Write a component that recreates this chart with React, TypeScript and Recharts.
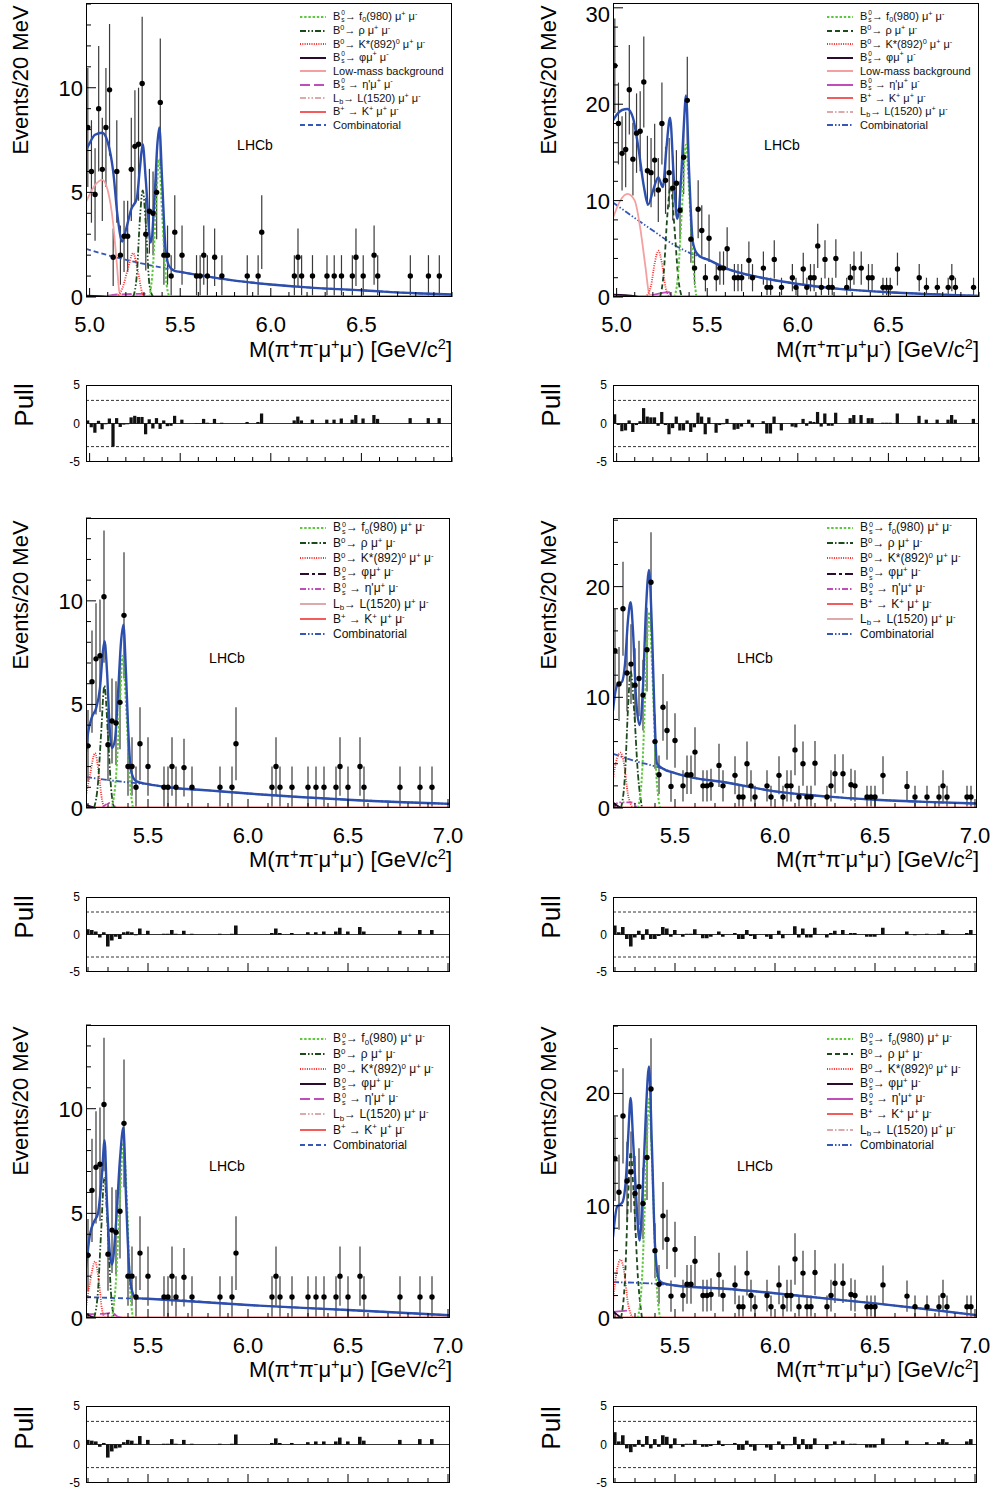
import React from 'react'
import type { ReactNode } from 'react'
import {
  Bar,
  ComposedChart,
  ErrorBar,
  Line,
  ReferenceLine,
  Scatter,
  XAxis,
  YAxis,
} from 'recharts'

type Pt = [number, number]

const BIN = 0.02
const topStart = 4.98
const lowStart = 5.19

// ---- histograms, top row (bins from 4.98 GeV) ----
const tlCounts = [
  8.1, 6, 4.9, 9, 6.1, 8.1, 9.9, 1.9, 6, 2,
  2.9, 2.9, 6.1, 7.2, 7.3, 10.2, 3, 4.1, 4, 5,
  9.3, 2, 2, 1, 3.1, 0, 2, 0, 0, 0,
  1, 1, 2, 1, 0, 1.9, 0, 1, 0, 0,
  0, 0, 0, 0, 1, 0, 0, 1, 3.1, 0,
  0, 0, 0, 0, 0, 0, 0, 1, 1.9, 1,
  0, 0, 1, 0, 0, 0, 1, 0, 1, 0,
  1, 0, 0, 1, 1.9, 0, 1, 0, 0, 2,
  1, 0, 0, 0, 0, 0, 0, 0, 0, 1,
  0, 0, 0, 0, 1, 0, 0, 1, 0, 0,
  0,
]
const trCounts = [
  24, 18, 14.9, 15.3, 21.5, 14.3, 17, 17.2, 22.3, 13.1,
  12.9, 14.2, 11.1, 18, 12.1, 12.9, 11.3, 11.8, 9, 14.5,
  20.4, 6, 3, 9.1, 6.9, 2, 6.1, 0, 2, 3,
  3, 5, 0, 2, 2, 2, 0, 3.8, 2, 0,
  0, 3, 1, 1, 3.9, 0, 1, 0, 0, 2,
  1, 0, 2.9, 1, 2, 2, 5.3, 1, 3.9, 1,
  1, 4, 0, 0, 1, 2, 3, 0, 3, 0,
  2, 2, 0, 0, 1, 1, 1, 0, 2.9, 0,
  0, 0, 0, 0, 2, 0, 1, 0, 0, 1,
  0, 0, 1, 2, 1, 0, 0, 0, 0, 1,
  0,
]
const tlPull = [
  0.4, -0.5, -1.2, 0.35, -0.75, -0.1, 0.65, -3.0, 0.7, -0.45,
  -0.15, -0.1, 0.8, 1.0, 0.85, 0.85, -1.4, 0.55, -0.65, 0.7,
  -0.7, 0.4, -0.35, -0.3, 1.0, 0, 0.5, 0, 0, 0,
  0.05, 0.05, 0.6, 0.1, 0, 0.6, 0, 0.1, 0, 0,
  0, 0, 0, 0, 0.2, 0, 0, 0.2, 1.3, 0,
  0, 0, 0, 0, 0, 0, 0, 0.4, 0.9, 0.4,
  0, 0, 0.5, 0, 0, 0, 0.5, 0, 0.5, 0,
  0.65, 0, 0, 0.5, 1.1, 0, 0.65, 0, 0, 1.1,
  0.6, 0, 0, 0, 0, 0, 0, 0, 0, 0.7,
  0, 0, 0, 0, 0.7, 0, 0, 0.7, 0, 0,
  0,
]
const trPull = [
  1.2, -0.2, -1.0, -0.9, 0.4, -1.1, -0.2, 0.3, 2.0, 0.9,
  0.8, 0.8, -0.3, 1.5, -0.2, -1.4, -0.6, 0.9, -0.9, -0.9,
  0.4, -1.1, -0.5, 1.4, 0.9, -1.4, 0.8, 0, -1.2, -0.2,
  -0.1, 0.6, 0, -0.8, -0.7, -0.4, 0, 0.5, -0.5, 0,
  0, 0.3, -1.3, -1.3, 0.9, 0, -0.9, 0, 0, -0.4,
  -0.5, 0, 0.6, -0.3, 0.3, 0.2, 1.5, -0.4, 1.3, -0.3,
  -0.3, 1.4, 0, 0, 0, 0.7, 1.1, 0, 1.1, 0,
  0.7, 0.7, 0, 0, 0.1, 0.1, 0.1, 0, 1.3, 0,
  0, 0, 0, 0, 1.0, 0, 0.5, 0, 0, 0.5,
  0, 0, 0.5, 1.1, 0.5, 0, 0, 0, 0, 0.6,
  0,
]

// ---- histograms, middle and bottom rows (bins from 5.19 GeV) ----
const leftCounts = [
  3, 6.1, 7.2, 7.35, 10.2, 3.05, 4.2, 4.1, 5.1, 9.3,
  2, 2, 1, 3.1, 0, 2, 0, 0, 0, 1,
  1, 2, 1, 0, 1.95, 0, 1, 0, 0, 0,
  0, 0, 0, 1, 0, 0, 1, 3.1, 0, 0,
  0, 0, 0, 0, 0, 0, 1, 2, 1, 0,
  0, 1, 0, 0, 0, 1, 0, 1, 0, 1,
  0, 0, 1, 2, 0, 1, 0, 0, 2, 1,
  0, 0, 0, 0, 0, 0, 0, 0, 1, 0,
  0, 0, 0, 1, 0, 0, 1, 0, 0, 0,
  0,
]
const rightCounts = [
  14.2, 11.2, 18, 12.2, 13, 11.1, 11.7, 10.2, 14.3, 20.4,
  6, 3, 9.1, 7, 1.95, 6.1, 0, 2, 3, 3,
  5.05, 0, 2, 2, 2.1, 0, 3.85, 2, 0, 0,
  2.95, 1, 1, 4, 2, 1, 0, 0, 2, 1,
  0, 2.95, 1, 2, 2, 5.25, 1, 4, 1, 1,
  4.05, 0, 0, 1, 2, 3.1, 0, 3.1, 0, 2.1,
  2, 0, 0, 1, 1, 1, 0, 2.95, 0, 0,
  0, 0, 0, 1.95, 0, 1, 0, 0, 1, 0,
  0, 1, 2, 1, 0, 0, 0, 0, 1, 1,
  0,
]
const mlPull = [
  0.7, 0.6, 0.4, -0.4, 0.3, -1.6, -0.8, -0.3, -0.6, 0.3,
  0.4, 0.3, -0.1, 0.8, 0, 0.5, 0, 0, 0, 0.1,
  0.1, 0.6, 0.1, 0, 0.5, 0, 0.1, 0, 0, 0,
  0, 0, 0, 0.1, 0, 0, 0.1, 1.2, 0, 0,
  0, 0, 0, 0, 0, 0, 0.2, 0.8, 0.2, 0,
  0, 0.2, 0, 0, 0, 0.3, 0, 0.3, 0, 0.4,
  0, 0, 0.4, 0.9, 0, 0.4, 0, 0, 1.0, 0.4,
  0, 0, 0, 0, 0, 0, 0, 0, 0.5, 0,
  0, 0, 0, 0.6, 0, 0, 0.6, 0, 0, 0,
  0,
]
const blPull = [
  0.6, 0.5, 0.4, -0.3, 0.2, -1.7, -0.9, -0.5, -0.4, 0.3,
  0.6, 0.5, 0.1, 1.1, 0, 0.6, 0, 0, 0, 0.1,
  0.1, 0.7, 0.1, 0, 0.6, 0, 0.1, 0, 0, 0,
  0, 0, 0, 0.1, 0, 0, 0.1, 1.3, 0, 0,
  0, 0, 0, 0, 0, 0, 0.2, 0.8, 0.2, 0,
  0, 0.2, 0, 0, 0, 0.3, 0, 0.4, 0, 0.4,
  0, 0, 0.4, 0.9, 0, 0.4, 0, 0, 1.0, 0.5,
  0, 0, 0, 0, 0, 0, 0, 0, 0.6, 0,
  0, 0, 0, 0.7, 0, 0, 0.7, 0, 0, 0,
  0,
]
const mrPull = [
  1.2, 0.3, 1.0, -0.6, -1.6, -0.4, 0.5, -0.7, 0.7, -0.6,
  -0.6, -0.2, 1.0, 0.8, -0.3, 0.6, 0, -0.3, 0.1, 0.1,
  0.7, 0, -0.5, -0.5, -0.3, 0, 0.4, -0.3, 0, 0,
  0.2, -0.6, -0.6, 0.6, -0.2, -0.6, 0, 0, -0.3, -0.6,
  0, 0.5, -0.5, 0, 0, 1.1, -0.4, 0.8, -0.4, -0.4,
  0.9, 0, 0, -0.4, 0.2, 0.5, 0, 0.6, 0, 0.2,
  0.2, 0, 0, -0.3, -0.3, -0.3, 0, 0.9, 0, 0,
  0, 0, 0, 0.4, 0, -0.1, 0, 0, 0.1, 0,
  0, 0.1, 0.6, 0.1, 0, 0, 0, 0, 0.2, 0.6,
  0,
]
const brPull = [
  1.6, 0.4, 1.2, -0.5, -1.0, -0.3, 0.6, -0.3, 1.1, -0.5,
  0.7, -0.3, 1.2, 1.0, -0.5, 0.8, 0, -0.3, 0.1, 0.1,
  0.6, 0, -0.3, -0.3, -0.2, 0, 0.5, -0.2, 0, 0,
  0.2, -0.7, -0.7, 0.5, -0.3, -0.8, 0, 0, -0.4, -0.7,
  0, 0.4, -0.6, -0.1, -0.1, 1.0, -0.6, 0.7, -0.6, -0.6,
  0.8, 0, 0, -0.6, -0.1, 0.4, 0, 0.5, 0, 0.1,
  0.1, 0, 0, -0.4, -0.4, -0.4, 0, 0.8, 0, 0,
  0, 0, 0, 0.5, 0, 0, 0, 0, 0.3, 0,
  0, 0.3, 0.7, 0.3, 0, 0, 0, 0, 0.4, 0.7,
  0,
]

// ---- fit curves [mass, events] ----
const tlFit: Pt[] = [[4.98, 7.0], [5.0, 7.35], [5.03, 7.75], [5.07, 7.85], [5.1, 7.4], [5.13, 6.0], [5.155, 3.8], [5.18, 2.65], [5.2, 3.2], [5.23, 4.2], [5.26, 4.7], [5.278, 6.2], [5.293, 7.3], [5.31, 5.6], [5.337, 2.6], [5.36, 5.0], [5.373, 7.2], [5.385, 8.1], [5.4, 5.6], [5.42, 2.2], [5.44, 1.45], [5.47, 1.25], [5.5, 1.2], [5.6, 1.05], [5.8, 0.78], [6.0, 0.6], [6.2, 0.46], [6.5, 0.32], [6.8, 0.18], [7.0, 0.12]]
const tlComb: Pt[] = [[4.98, 2.3], [5.1, 2.0], [5.2, 1.78], [5.3, 1.58], [5.4, 1.4], [5.5, 1.2], [5.6, 1.05], [5.8, 0.78], [6.0, 0.6], [6.2, 0.46], [6.5, 0.32], [6.8, 0.18], [7.0, 0.12]]
const tlLow: Pt[] = [[4.98, 4.55], [5.0, 4.9], [5.03, 5.35], [5.07, 5.6], [5.1, 5.1], [5.13, 3.5], [5.15, 1.6], [5.165, 0.2], [5.18, 0.02], [7.0, 0.02]]
const tlKst: Pt[] = [[5.15, 0], [5.18, 0.4], [5.21, 1.3], [5.24, 2.1], [5.265, 1.3], [5.29, 0.2], [5.3, 0]]
const tlRho: Pt[] = [[5.24, 0], [5.26, 1.0], [5.278, 3.8], [5.293, 5.1], [5.31, 3.5], [5.33, 0.6], [5.35, 0]]
const tlF0: Pt[] = [[5.33, 0], [5.35, 1.5], [5.37, 5.0], [5.383, 6.6], [5.4, 4.0], [5.42, 1.0], [5.44, 0]]
const tlPhi: Pt[] = [[4.98, 0.06], [5.05, 0.04], [5.1, 0.01]]
const tlEtap: Pt[] = [[5.1, 0.05], [5.15, 0.12], [5.3, 0.15], [5.33, 0.02]]
const tlLb: Pt[] = [[5.12, 0.01], [5.22, 0.08], [5.3, 0.01]]
const tlBk: Pt[] = [[4.98, 0.04], [7.0, 0.04]]

const trFit: Pt[] = [[4.98, 18.3], [5.0, 18.9], [5.03, 19.4], [5.06, 19.5], [5.09, 18.6], [5.12, 15.5], [5.15, 11.5], [5.175, 9.6], [5.2, 11.0], [5.23, 12.4], [5.255, 11.4], [5.275, 15.5], [5.295, 18.6], [5.315, 12.5], [5.335, 8.1], [5.355, 12], [5.37, 17.5], [5.383, 20.9], [5.4, 13], [5.42, 5.8], [5.44, 4.6], [5.47, 4.1], [5.5, 3.9], [5.6, 3.0], [5.8, 2.0], [6.0, 1.35], [6.2, 0.9], [6.5, 0.5], [6.8, 0.25], [7.0, 0.12]]
const trComb: Pt[] = [[4.98, 9.8], [5.1, 8.2], [5.2, 6.9], [5.3, 5.6], [5.4, 4.6], [5.5, 3.9], [5.6, 3.0], [5.8, 2.0], [6.0, 1.35], [6.2, 0.9], [6.5, 0.5], [6.8, 0.25], [7.0, 0.12]]
const trLow: Pt[] = [[4.98, 8.2], [5.02, 10.0], [5.06, 10.7], [5.1, 10.0], [5.13, 7.2], [5.16, 3.0], [5.18, 0.3], [5.2, 0.05], [7.0, 0.05]]
const trKst: Pt[] = [[5.16, 0], [5.19, 1.2], [5.21, 3.5], [5.23, 4.8], [5.25, 3.5], [5.27, 1.0], [5.29, 0]]
const trRho: Pt[] = [[5.24, 0], [5.26, 2.5], [5.28, 8.5], [5.298, 11.5], [5.32, 7], [5.34, 2], [5.36, 0]]
const trF0: Pt[] = [[5.32, 0], [5.34, 2.5], [5.36, 9], [5.383, 15.8], [5.4, 11], [5.42, 4], [5.44, 0]]
const trPhi: Pt[] = [[4.98, 0.25], [5.05, 0.2], [5.12, 0.02]]
const trEtap: Pt[] = [[5.18, 0.1], [5.22, 0.3], [5.29, 0.5], [5.3, 0.02]]
const trLb: Pt[] = [[5.15, 0.02], [5.25, 0.1], [5.35, 0.02]]
const trBk: Pt[] = [[4.98, 0.1], [7.0, 0.1]]

const mlFit: Pt[] = [[5.19, 2.7], [5.2, 3.6], [5.22, 4.4], [5.24, 4.8], [5.26, 5.8], [5.275, 7.6], [5.283, 8.05], [5.295, 6.6], [5.31, 3.6], [5.32, 2.9], [5.335, 3.3], [5.35, 5.5], [5.365, 8.0], [5.377, 8.85], [5.39, 6.5], [5.4, 4.0], [5.415, 1.8], [5.44, 1.3], [5.5, 1.15], [5.6, 1.0], [5.8, 0.85], [6.0, 0.7], [6.5, 0.4], [7.01, 0.2]]
const mlComb: Pt[] = [[5.19, 1.5], [5.3, 1.35], [5.44, 1.2], [5.5, 1.15], [5.6, 1.0], [5.8, 0.85], [6.0, 0.7], [6.5, 0.4], [7.01, 0.2]]
const mlKst: Pt[] = [[5.19, 0.6], [5.21, 1.6], [5.235, 2.65], [5.255, 1.6], [5.27, 0.4], [5.285, 0]]
const mlRho: Pt[] = [[5.23, 0], [5.25, 1.2], [5.265, 3.5], [5.282, 5.9], [5.3, 3.5], [5.315, 1.0], [5.33, 0]]
const mlF0: Pt[] = [[5.32, 0], [5.34, 1.5], [5.36, 5.0], [5.373, 7.35], [5.39, 5.0], [5.41, 1.2], [5.425, 0]]
const mlPhi: Pt[] = [[5.19, 0.15], [5.22, 0.05], [5.24, 0.01]]
const mlEtap: Pt[] = [[5.27, 0.01], [5.31, 0.25], [5.34, 0.01]]
const mlLb: Pt[] = [[5.19, 0.02], [7.01, 0.02]]
const mlBk: Pt[] = [[5.19, 0.03], [7.01, 0.03]]

const blFit: Pt[] = [[5.19, 2.4], [5.21, 4.0], [5.23, 4.6], [5.25, 5.0], [5.27, 6.9], [5.283, 8.5], [5.295, 5.5], [5.31, 3.0], [5.32, 2.55], [5.34, 4.5], [5.36, 7.6], [5.377, 9.1], [5.39, 5.8], [5.405, 2.5], [5.42, 1.3], [5.44, 0.95], [5.5, 0.92], [6.0, 0.62], [6.5, 0.38], [7.01, 0.13]]
const blComb: Pt[] = [[5.19, 1.0], [5.44, 0.93], [5.5, 0.92], [6.0, 0.62], [6.5, 0.38], [7.01, 0.13]]
const blKst: Pt[] = [[5.19, 0.5], [5.21, 1.7], [5.235, 2.7], [5.255, 1.7], [5.27, 0.4], [5.285, 0]]
const blRho: Pt[] = [[5.23, 0], [5.25, 1.3], [5.265, 4.0], [5.282, 6.7], [5.3, 4.0], [5.315, 1.2], [5.33, 0]]
const blF0: Pt[] = [[5.32, 0], [5.34, 1.8], [5.36, 5.8], [5.377, 8.35], [5.395, 5.5], [5.41, 1.5], [5.425, 0]]
const blPhi: Pt[] = [[5.19, 0.2], [5.22, 0.05], [5.24, 0.01]]
const blEtap: Pt[] = [[5.19, 0.18], [5.28, 0.2], [5.32, 0.25], [5.35, 0.05], [5.37, 0.01]]
const blLb: Pt[] = [[5.19, 0.02], [7.01, 0.02]]
const blBk: Pt[] = [[5.19, 0.03], [7.01, 0.03]]

const mrFit: Pt[] = [[5.19, 8.8], [5.2, 10.3], [5.215, 11.2], [5.235, 11.4], [5.25, 13.0], [5.265, 17.0], [5.278, 18.6], [5.29, 16], [5.305, 10], [5.323, 7.5], [5.34, 11], [5.355, 18], [5.37, 21.5], [5.385, 16], [5.397, 8.8], [5.41, 4.0], [5.44, 3.55], [5.5, 3.15], [5.6, 2.7], [5.74, 2.35], [6.0, 1.5], [6.25, 1.05], [6.5, 0.75], [6.75, 0.55], [7.01, 0.4]]
const mrComb: Pt[] = [[5.19, 4.9], [5.3, 4.25], [5.44, 3.55], [5.5, 3.15], [5.6, 2.7], [5.74, 2.35], [6.0, 1.5], [6.25, 1.05], [6.5, 0.75], [6.75, 0.55], [7.01, 0.4]]
const mrKst: Pt[] = [[5.19, 2.6], [5.21, 4.5], [5.228, 5.0], [5.245, 4.0], [5.265, 1.2], [5.28, 0.3], [5.29, 0]]
const mrRho: Pt[] = [[5.23, 0], [5.25, 3], [5.265, 9], [5.278, 12.4], [5.295, 9], [5.315, 3], [5.335, 0]]
const mrF0: Pt[] = [[5.315, 0], [5.335, 3], [5.355, 12], [5.37, 17.7], [5.385, 13], [5.405, 3.5], [5.425, 0]]
const mrPhi: Pt[] = [[5.19, 0.5], [5.22, 0.1], [5.23, 0.02]]
const mrEtap: Pt[] = [[5.19, 0.1], [5.22, 0.5], [5.29, 0.5], [5.31, 0.02]]
const mrLb: Pt[] = [[5.19, 0.04], [7.01, 0.04]]
const mrBk: Pt[] = [[5.19, 0.06], [7.01, 0.06]]

const brFit: Pt[] = [[5.19, 7.2], [5.21, 9.9], [5.237, 10.3], [5.255, 12.5], [5.267, 16.5], [5.278, 19.6], [5.29, 16.0], [5.305, 11.0], [5.323, 6.9], [5.34, 12.0], [5.355, 18.5], [5.37, 22.4], [5.385, 15.0], [5.4, 6.5], [5.42, 3.4], [5.44, 3.1], [5.5, 2.9], [5.75, 2.6], [6.0, 2.2], [6.25, 1.75], [6.5, 1.3], [6.75, 0.8], [7.01, 0.25]]
const brComb: Pt[] = [[5.19, 3.2], [5.44, 3.0], [5.5, 2.9], [5.75, 2.6], [6.0, 2.2], [6.25, 1.75], [6.5, 1.3], [6.75, 0.8], [7.01, 0.25]]
const brKst: Pt[] = [[5.19, 1.5], [5.21, 4.3], [5.228, 5.2], [5.245, 4.2], [5.265, 1.3], [5.28, 0.3], [5.29, 0]]
const brRho: Pt[] = [[5.23, 0], [5.25, 3.5], [5.265, 10.5], [5.278, 14.8], [5.295, 10.5], [5.315, 3.5], [5.335, 0]]
const brF0: Pt[] = [[5.315, 0], [5.335, 3.5], [5.355, 13], [5.37, 19.5], [5.385, 14], [5.405, 4], [5.425, 0]]
const brPhi: Pt[] = [[5.19, 0.6], [5.21, 0.3], [5.23, 0.02]]
const brEtap: Pt[] = [[5.19, 0.55], [5.26, 0.65]]
const brLb: Pt[] = [[5.19, 0.04], [7.01, 0.04]]
const brBk: Pt[] = [[5.19, 0.06], [7.01, 0.06]]

// ---- axis ticks ----
const topXMajor = [5.0, 5.5, 6.0, 6.5]
const lowXMajor = [5.5, 6.0, 6.5, 7.0]
const topXMinor = Array.from({ length: 21 }, (_, i) => +(5.0 + 0.1 * i).toFixed(1))
const lowXMinor = Array.from({ length: 19 }, (_, i) => +(5.2 + 0.1 * i).toFixed(1))
const smallYMajor = [0, 5, 10]
const smallYMinor = Array.from({ length: 15 }, (_, i) => i)
const bigYMajorTop = [0, 10, 20, 30]
const bigYMinorTop = Array.from({ length: 16 }, (_, i) => 2 * i)
const bigYMajor = [0, 10, 20]
const bigYMinor = Array.from({ length: 14 }, (_, i) => 2 * i)
const pullTicks = [-5, 0, 5]

const C = {
  f0: '#5cc83c',
  rho: '#1d4a1d',
  kst: '#ff2b2b',
  phi: '#2b0b2e',
  low: '#f4a0a0',
  etap: '#c04db8',
  lb: '#dcaaaa',
  bk: '#f25c5c',
  comb: '#3557b5',
  fit: '#2c4ead',
}
const D = {
  dot: '1 1.3',
  green: '2.4 1.8',
  dash: '5 3',
  dashDot: '6 2 1.5 2',
  dashDotDot: '6 2 1.5 2 1.5 2',
  long: '10 4',
  longShort: '9 3 3 3',
}

const FONT = '"Liberation Sans", Arial, Helvetica, sans-serif'
const PL = 60
const PT = 10
const PR = 15
const PB = 45

const toXY = (arr: Pt[]) => arr.map(([x, y]) => ({ x, y }))
const isIn = (arr: number[], v: number) => arr.some((m) => Math.abs(m - v) < 1e-6)

// raised / lowered scripts kept inside the line box
const Sp = ({ c }: { c: string }) => (
  <span style={{ fontSize: '0.66em', position: 'relative', top: '-0.55em', lineHeight: 1 }}>{c}</span>
)
const Sb = ({ c }: { c: string }) => (
  <span style={{ fontSize: '0.66em', position: 'relative', top: '0.3em', lineHeight: 1 }}>{c}</span>
)
const SS = ({ up, dn }: { up: string; dn: string }) => (
  <span
    style={{
      display: 'inline-flex',
      flexDirection: 'column',
      fontSize: '0.6em',
      lineHeight: 1,
      verticalAlign: 'middle',
      marginLeft: 1,
    }}
  >
    <span>{up}</span>
    <span>{dn}</span>
  </span>
)
const mumu = (
  <>
    μ<Sp c="+" /> μ<Sp c="-" />
  </>
)
const LBL: Record<string, ReactNode> = {
  f0: <>B<SS up="0" dn="s" />→ f<Sb c="0" />(980) {mumu}</>,
  rho: <>B<Sp c="0" />→ ρ {mumu}</>,
  kst: <>B<Sp c="0" />→ K*(892)<Sp c="0" /> {mumu}</>,
  phi: <>B<SS up="0" dn="s" />→ φ{mumu}</>,
  low: <>Low-mass background</>,
  etap: <>B<SS up="0" dn="s" /> → η'{mumu}</>,
  lb: <>L<Sb c="b" />→ L(1520) {mumu}</>,
  bk: <>B<Sp c="+" /> → K<Sp c="+" /> {mumu}</>,
  comb: <>Combinatorial</>,
}

interface Series {
  key: string
  data: Pt[]
  color: string
  dash?: string
  width?: number
}

function XTick(props: any) {
  const { x, y, payload, majors, labels } = props
  const v = payload.value as number
  const major = isIn(majors, v)
  return (
    <g>
      <line x1={x} x2={x} y1={y} y2={y - (major ? 9 : 5)} stroke="#000" strokeWidth={1} />
      {major && labels && (
        <text x={x} y={y + 35} textAnchor="middle" fontSize={22} fill="#000" fontFamily={FONT}>
          {v.toFixed(1)}
        </text>
      )}
    </g>
  )
}

function YTick(props: any) {
  const { x, y, payload, majors } = props
  const v = payload.value as number
  const major = isIn(majors, v)
  return (
    <g>
      <line x1={x} x2={x + (major ? 10 : 5)} y1={y} y2={y} stroke="#000" strokeWidth={1} />
      {major && (
        <text x={x - 3} y={Math.max(y + 8, 29)} textAnchor="end" fontSize={22} fill="#000" fontFamily={FONT}>
          {v}
        </text>
      )}
    </g>
  )
}

function PullYTick(props: any) {
  const { x, y, payload } = props
  return (
    <text x={x - 6} y={y + 4} textAnchor="end" fontSize={12} fill="#000" fontFamily={FONT}>
      {payload.value}
    </text>
  )
}

interface MainProps {
  left: number
  top: number
  width: number
  height: number
  xDomain: [number, number]
  xMajor: number[]
  xMinor: number[]
  yMax: number
  yMajor: number[]
  yMinor: number[]
  counts: number[]
  start: number
  series: Series[]
  fit: Pt[]
}

function MainPanel(p: MainProps) {
  const pts = p.counts.map((v, i) => ({
    x: p.start + BIN * (i + 0.5),
    y: v,
    e: v > 0 ? Math.sqrt(v) : 0,
  }))
  const half = (p.width * BIN) / (p.xDomain[1] - p.xDomain[0]) / 2
  return (
    <div style={{ position: 'absolute', left: p.left - PL, top: p.top - PT }}>
      <ComposedChart
        width={p.width + PL + PR}
        height={p.height + PT + PB}
        margin={{ top: PT, right: PR, bottom: 0, left: 0 }}
      >
        <XAxis
          type="number"
          dataKey="x"
          domain={p.xDomain}
          allowDataOverflow
          ticks={p.xMinor}
          interval={0}
          height={PB}
          tickSize={0}
          tickMargin={0}
          axisLine={false}
          tickLine={false}
          tick={(t: any) => <XTick {...t} majors={p.xMajor} labels />}
        />
        <YAxis
          type="number"
          domain={[0, p.yMax]}
          allowDataOverflow
          ticks={p.yMinor}
          interval={0}
          width={PL}
          tickSize={0}
          tickMargin={0}
          axisLine={false}
          tickLine={false}
          tick={(t: any) => <YTick {...t} majors={p.yMajor} />}
        />
        <Scatter
          data={pts}
          dataKey="y"
          isAnimationActive={false}
          shape={(s: any) =>
            s.payload.y > 0 ? (
              <circle cx={s.cx} cy={s.cy} r={2.7} fill="#000" />
            ) : (
              <line x1={s.cx - half + 0.6} x2={s.cx + half - 0.6} y1={s.cy} y2={s.cy} stroke="#333" strokeWidth={1} />
            )
          }
        >
          <ErrorBar dataKey="e" direction="y" width={0} stroke="#3a3a3a" strokeWidth={1.2} />
        </Scatter>
        {p.series.map((s) => (
          <Line
            key={s.key}
            data={toXY(s.data)}
            dataKey="y"
            type="monotone"
            dot={false}
            activeDot={false}
            stroke={s.color}
            strokeWidth={s.width ?? 1.8}
            strokeDasharray={s.dash}
            isAnimationActive={false}
          />
        ))}
        <Line
          data={toXY(p.fit)}
          dataKey="y"
          type="monotone"
          dot={false}
          activeDot={false}
          stroke={C.fit}
          strokeWidth={2.4}
          isAnimationActive={false}
        />
      </ComposedChart>
      <div
        style={{
          position: 'absolute',
          left: PL,
          top: PT,
          width: p.width,
          height: p.height,
          border: '1px solid #000',
          boxSizing: 'border-box',
          pointerEvents: 'none',
        }}
      />
    </div>
  )
}

interface PullProps {
  left: number
  top: number
  width: number
  height: number
  xDomain: [number, number]
  xMajor: number[]
  xMinor: number[]
  pulls: number[]
  start: number
}

function PullPanel(p: PullProps) {
  const data = p.pulls.map((v, i) => ({ x: p.start + BIN * (i + 0.5), p: v }))
  const bw = (p.width * BIN) / (p.xDomain[1] - p.xDomain[0])
  return (
    <div style={{ position: 'absolute', left: p.left - PL, top: p.top - PT }}>
      <ComposedChart
        width={p.width + PL + PR}
        height={p.height + PT + 15}
        data={data}
        margin={{ top: PT, right: PR, bottom: 0, left: 0 }}
        barGap={0}
        barCategoryGap={0}
      >
        <XAxis
          type="number"
          dataKey="x"
          domain={p.xDomain}
          allowDataOverflow
          ticks={p.xMinor}
          interval={0}
          height={15}
          tickSize={0}
          tickMargin={0}
          axisLine={false}
          tickLine={false}
          tick={(t: any) => <XTick {...t} majors={p.xMajor} labels={false} />}
        />
        <YAxis
          type="number"
          domain={[-5, 5]}
          allowDataOverflow
          ticks={pullTicks}
          interval={0}
          width={PL}
          tickSize={0}
          tickMargin={0}
          axisLine={false}
          tickLine={false}
          tick={(t: any) => <PullYTick {...t} />}
        />
        <ReferenceLine y={3} stroke="#000" strokeDasharray="3 2" strokeWidth={0.8} />
        <ReferenceLine y={-3} stroke="#000" strokeDasharray="3 2" strokeWidth={0.8} />
        <ReferenceLine y={0} stroke="#000" strokeWidth={0.8} />
        <Bar dataKey="p" fill="#111" barSize={bw} isAnimationActive={false} />
      </ComposedChart>
      <div
        style={{
          position: 'absolute',
          left: PL,
          top: PT,
          width: p.width,
          height: p.height,
          border: '1px solid #000',
          boxSizing: 'border-box',
          pointerEvents: 'none',
        }}
      />
    </div>
  )
}

interface LegendItem {
  key: string
  color: string
  dash?: string
  width?: number
}

function Legend({ left, top, step, fontSize, items }: { left: number; top: number; step: number; fontSize: number; items: LegendItem[] }) {
  return (
    <div style={{ position: 'absolute', left, top: top - step / 2, fontSize, lineHeight: 1, color: '#111' }}>
      {items.map((it) => (
        <div key={it.key} style={{ display: 'flex', alignItems: 'center', height: step, whiteSpace: 'nowrap' }}>
          <svg width={26} height={6} style={{ marginRight: 7, flex: 'none' }}>
            <line x1={0} x2={26} y1={3} y2={3} stroke={it.color} strokeWidth={it.width ?? 2} strokeDasharray={it.dash} />
          </svg>
          <span>{LBL[it.key]}</span>
        </div>
      ))}
    </div>
  )
}

const rotated = (text: ReactNode, cx: number, cy: number, size: number) => (
  <div
    style={{
      position: 'absolute',
      left: cx - 110,
      top: cy - 16,
      width: 220,
      height: 32,
      lineHeight: '32px',
      textAlign: 'center',
      fontSize: size,
      transform: 'rotate(-90deg)',
      whiteSpace: 'nowrap',
    }}
  >
    {text}
  </div>
)

const massTitle = (
  <>
    M(π<Sp c="+" />π<Sp c="-" />μ<Sp c="+" />μ<Sp c="-" />) [GeV/c<Sp c="2" />]
  </>
)

const xTitle = (right: number, cy: number) => (
  <div style={{ position: 'absolute', right: 994 - right, top: cy - 14, fontSize: 22, whiteSpace: 'nowrap', lineHeight: '28px' }}>
    {massTitle}
  </div>
)

const lhcb = (cx: number, cy: number) => (
  <div style={{ position: 'absolute', left: cx - 40, top: cy - 10, width: 80, textAlign: 'center', fontSize: 14, lineHeight: '20px' }}>
    LHCb
  </div>
)

export default function App() {
  const tlSeries: Series[] = [
    { key: 'comb', data: tlComb, color: C.comb, dash: D.dash },
    { key: 'bk', data: tlBk, color: C.bk },
    { key: 'lb', data: tlLb, color: C.lb, dash: D.dashDotDot },
    { key: 'etap', data: tlEtap, color: C.etap, dash: D.long },
    { key: 'phi', data: tlPhi, color: C.phi },
    { key: 'low', data: tlLow, color: C.low },
    { key: 'kst', data: tlKst, color: C.kst, dash: D.dot },
    { key: 'rho', data: tlRho, color: C.rho, dash: D.dashDotDot },
    { key: 'f0', data: tlF0, color: C.f0, dash: D.green, width: 2 },
  ]
  const trSeries: Series[] = [
    { key: 'comb', data: trComb, color: C.comb, dash: D.dashDotDot },
    { key: 'bk', data: trBk, color: C.bk },
    { key: 'lb', data: trLb, color: C.lb, dash: D.dashDot },
    { key: 'etap', data: trEtap, color: C.etap },
    { key: 'phi', data: trPhi, color: C.phi },
    { key: 'low', data: trLow, color: C.low },
    { key: 'kst', data: trKst, color: C.kst, dash: D.dot },
    { key: 'rho', data: trRho, color: C.rho, dash: D.dash },
    { key: 'f0', data: trF0, color: C.f0, dash: D.green, width: 2 },
  ]
  const mlSeries: Series[] = [
    { key: 'comb', data: mlComb, color: C.comb, dash: D.dashDotDot },
    { key: 'bk', data: mlBk, color: C.bk },
    { key: 'lb', data: mlLb, color: C.lb },
    { key: 'etap', data: mlEtap, color: C.etap, dash: D.dashDotDot },
    { key: 'phi', data: mlPhi, color: C.phi, dash: D.longShort },
    { key: 'kst', data: mlKst, color: C.kst, dash: D.dot },
    { key: 'rho', data: mlRho, color: C.rho, dash: D.dashDot },
    { key: 'f0', data: mlF0, color: C.f0, dash: D.green, width: 2 },
  ]
  const mrSeries: Series[] = [
    { key: 'comb', data: mrComb, color: C.comb, dash: D.dashDotDot },
    { key: 'bk', data: mrBk, color: C.bk },
    { key: 'lb', data: mrLb, color: C.lb },
    { key: 'etap', data: mrEtap, color: C.etap, dash: D.dashDotDot },
    { key: 'phi', data: mrPhi, color: C.phi, dash: D.longShort },
    { key: 'kst', data: mrKst, color: C.kst, dash: D.dot },
    { key: 'rho', data: mrRho, color: C.rho, dash: D.dashDot },
    { key: 'f0', data: mrF0, color: C.f0, dash: D.green, width: 2 },
  ]
  const blSeries: Series[] = [
    { key: 'comb', data: blComb, color: C.comb, dash: D.dash },
    { key: 'bk', data: blBk, color: C.bk },
    { key: 'lb', data: blLb, color: C.lb, dash: D.dashDotDot },
    { key: 'etap', data: blEtap, color: C.etap, dash: D.long },
    { key: 'phi', data: blPhi, color: C.phi },
    { key: 'kst', data: blKst, color: C.kst, dash: D.dot },
    { key: 'rho', data: blRho, color: C.rho, dash: D.dashDotDot },
    { key: 'f0', data: blF0, color: C.f0, dash: D.green, width: 2 },
  ]
  const brSeries: Series[] = [
    { key: 'comb', data: brComb, color: C.comb, dash: D.dashDotDot },
    { key: 'bk', data: brBk, color: C.bk },
    { key: 'lb', data: brLb, color: C.lb, dash: D.dashDot },
    { key: 'etap', data: brEtap, color: C.etap },
    { key: 'phi', data: brPhi, color: C.phi },
    { key: 'kst', data: brKst, color: C.kst, dash: D.dot },
    { key: 'rho', data: brRho, color: C.rho, dash: D.dash },
    { key: 'f0', data: brF0, color: C.f0, dash: D.green, width: 2 },
  ]

  const order = (series: Series[], keys: string[]): LegendItem[] =>
    keys.map((k) => {
      const s = series.find((q) => q.key === k)!
      return { key: k, color: s.color, dash: s.dash, width: s.width }
    })

  return (
    <div
      style={{
        position: 'absolute',
        left: 0,
        top: 0,
        width: 994,
        height: 1492,
        background: '#fff',
        fontFamily: FONT,
        color: '#000',
        overflow: 'hidden',
      }}
    >
      {/* top row */}
      <MainPanel left={86} top={3} width={366} height={294} xDomain={[topStart, 7.0]} xMajor={topXMajor} xMinor={topXMinor} yMax={14.05} yMajor={smallYMajor} yMinor={smallYMinor} counts={tlCounts} start={topStart} series={tlSeries} fit={tlFit} />
      <MainPanel left={613} top={3} width={366} height={294} xDomain={[topStart, 7.0]} xMajor={topXMajor} xMinor={topXMinor} yMax={30.5} yMajor={bigYMajorTop} yMinor={bigYMinorTop} counts={trCounts} start={topStart} series={trSeries} fit={trFit} />
      <PullPanel left={86} top={385} width={366} height={77} xDomain={[topStart, 7.0]} xMajor={topXMajor} xMinor={topXMinor} pulls={tlPull} start={topStart} />
      <PullPanel left={613} top={385} width={366} height={77} xDomain={[topStart, 7.0]} xMajor={topXMajor} xMinor={topXMinor} pulls={trPull} start={topStart} />

      {/* middle row */}
      <MainPanel left={86} top={518} width={364} height={290} xDomain={[lowStart, 7.01]} xMajor={lowXMajor} xMinor={lowXMinor} yMax={14} yMajor={smallYMajor} yMinor={smallYMinor} counts={leftCounts} start={lowStart} series={mlSeries} fit={mlFit} />
      <MainPanel left={613} top={518} width={364} height={290} xDomain={[lowStart, 7.01]} xMajor={lowXMajor} xMinor={lowXMinor} yMax={26.2} yMajor={bigYMajor} yMinor={bigYMinor} counts={rightCounts} start={lowStart} series={mrSeries} fit={mrFit} />
      <PullPanel left={86} top={897} width={364} height={75} xDomain={[lowStart, 7.01]} xMajor={lowXMajor} xMinor={lowXMinor} pulls={mlPull} start={lowStart} />
      <PullPanel left={613} top={897} width={364} height={75} xDomain={[lowStart, 7.01]} xMajor={lowXMajor} xMinor={lowXMinor} pulls={mrPull} start={lowStart} />

      {/* bottom row */}
      <MainPanel left={86} top={1025} width={364} height={293} xDomain={[lowStart, 7.01]} xMajor={lowXMajor} xMinor={lowXMinor} yMax={14} yMajor={smallYMajor} yMinor={smallYMinor} counts={leftCounts} start={lowStart} series={blSeries} fit={blFit} />
      <MainPanel left={613} top={1025} width={364} height={293} xDomain={[lowStart, 7.01]} xMajor={lowXMajor} xMinor={lowXMinor} yMax={26.1} yMajor={bigYMajor} yMinor={bigYMinor} counts={rightCounts} start={lowStart} series={brSeries} fit={brFit} />
      <PullPanel left={86} top={1406} width={364} height={77} xDomain={[lowStart, 7.01]} xMajor={lowXMajor} xMinor={lowXMinor} pulls={blPull} start={lowStart} />
      <PullPanel left={613} top={1406} width={364} height={77} xDomain={[lowStart, 7.01]} xMajor={lowXMajor} xMinor={lowXMinor} pulls={brPull} start={lowStart} />

      {/* legends */}
      <Legend left={300} top={17} step={13.5} fontSize={11} items={order(tlSeries, ['f0', 'rho', 'kst', 'phi', 'low', 'etap', 'lb', 'bk', 'comb'])} />
      <Legend left={827} top={17} step={13.5} fontSize={11} items={order(trSeries, ['f0', 'rho', 'kst', 'phi', 'low', 'etap', 'bk', 'lb', 'comb'])} />
      <Legend left={300} top={528} step={15.2} fontSize={12} items={order(mlSeries, ['f0', 'rho', 'kst', 'phi', 'etap', 'lb', 'bk', 'comb'])} />
      <Legend left={827} top={528} step={15.2} fontSize={12} items={order(mrSeries, ['f0', 'rho', 'kst', 'phi', 'etap', 'bk', 'lb', 'comb'])} />
      <Legend left={300} top={1039} step={15.1} fontSize={12} items={order(blSeries, ['f0', 'rho', 'kst', 'phi', 'etap', 'lb', 'bk', 'comb'])} />
      <Legend left={827} top={1039} step={15.1} fontSize={12} items={order(brSeries, ['f0', 'rho', 'kst', 'phi', 'etap', 'bk', 'lb', 'comb'])} />

      {lhcb(255, 145)}
      {lhcb(782, 145)}
      {lhcb(227, 658)}
      {lhcb(755, 658)}
      {lhcb(227, 1166)}
      {lhcb(755, 1166)}

      {rotated('Events/20 MeV', 21, 80, 22)}
      {rotated('Events/20 MeV', 549, 80, 22)}
      {rotated('Events/20 MeV', 21, 595, 22)}
      {rotated('Events/20 MeV', 549, 595, 22)}
      {rotated('Events/20 MeV', 21, 1101, 22)}
      {rotated('Events/20 MeV', 549, 1101, 22)}

      {rotated('Pull', 24, 405, 26)}
      {rotated('Pull', 551, 405, 26)}
      {rotated('Pull', 24, 917, 26)}
      {rotated('Pull', 551, 917, 26)}
      {rotated('Pull', 24, 1428, 26)}
      {rotated('Pull', 551, 1428, 26)}

      {xTitle(452, 350)}
      {xTitle(979, 350)}
      {xTitle(452, 860)}
      {xTitle(979, 860)}
      {xTitle(452, 1370)}
      {xTitle(979, 1370)}
    </div>
  )
}
